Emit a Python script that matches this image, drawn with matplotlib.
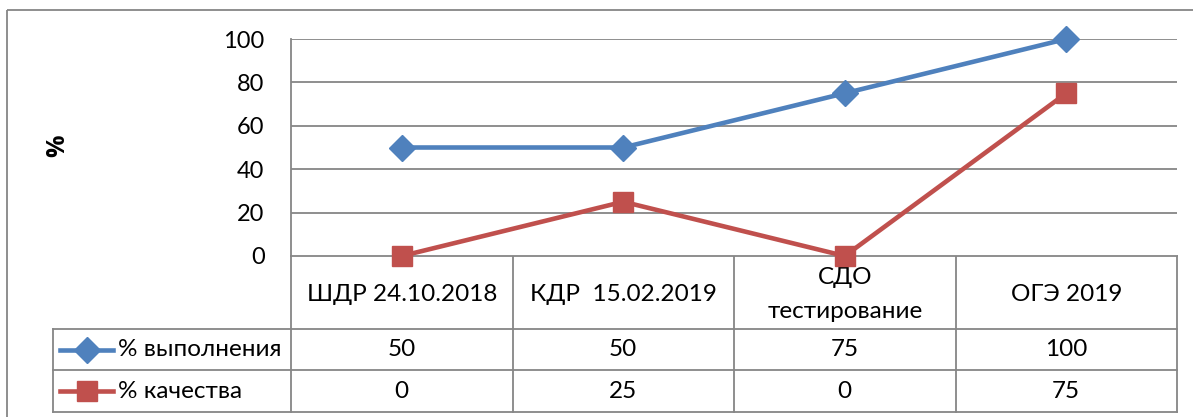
import matplotlib.pyplot as plt
from matplotlib.patches import Rectangle

plt.rcParams['font.family'] = ['Lato', 'DejaVu Sans']

categories = ['ШДР 24.10.2018', 'КДР  15.02.2019', 'СДО\nтестирование', 'ОГЭ 2019']
vypolnenie = [50, 50, 75, 100]
kachestvo = [0, 25, 0, 75]
series_names = ['% выполнения', '% качества']
yticks = [0, 20, 40, 60, 80, 100]

blue = '#4F81BD'
red = '#C0504D'
grid_col = '#868686'
W, H = 1193, 417
fs = 17.5

fig = plt.figure(figsize=(W / 100, H / 100), dpi=100)

# overlay for border and data table (pixel coords)
ov = fig.add_axes([0, 0, 1, 1])
ov.set_xlim(0, W)
ov.set_ylim(H, 0)
ov.axis('off')
ov.add_patch(Rectangle((7, 10), W + 10, H + 10, fill=False, ec=grid_col, lw=1.3))

left, right = 291, 1177
top, zero = 39, 256
row_y = [256, 329, 370, 412]
col_x = [291 + i * (right - left) / 4 for i in range(5)]
leg_left = 53

ax = fig.add_axes([left / W, (H - zero) / H, (right - left) / W, (zero - top) / H])
ax.set_xlim(-0.5, 3.5)
ax.set_ylim(0, 100)
ax.set_yticks(yticks)
ax.set_xticks([])
ax.yaxis.grid(True, color=grid_col, lw=1.3)
ax.set_axisbelow(True)
for s in ['top', 'right', 'bottom']:
    ax.spines[s].set_visible(False)
ax.spines['left'].set_color(grid_col)
ax.spines['left'].set_linewidth(1.3)
ax.tick_params(axis='y', length=0, labelsize=17, pad=19)

ov.text(58, 146, '%', rotation=90, ha='center', va='center', fontsize=18,
        fontweight='bold', family=['Open Sans', 'DejaVu Sans'])

x = range(len(categories))
ax.plot(x, vypolnenie, color=blue, lw=3.3, marker='D', ms=13, clip_on=False, zorder=3)
ax.plot(x, kachestvo, color=red, lw=3.3, marker='s', ms=14, clip_on=False, zorder=3)

# table lines
lc = dict(color=grid_col, lw=1.3)
ov.plot([left, right], [row_y[0], row_y[0]], **lc)
for y in row_y[1:]:
    ov.plot([leg_left, right], [y, y], **lc)
for cx in col_x:
    ov.plot([cx, cx], [row_y[0], row_y[3]], **lc)
ov.plot([leg_left, leg_left], [row_y[1], row_y[3]], **lc)

for i, cat in enumerate(categories):
    cx = (col_x[i] + col_x[i + 1]) / 2
    ov.text(cx, (row_y[0] + row_y[1]) / 2 + 2, cat, ha='center', va='center',
            fontsize=fs, linespacing=1.75)
    ov.text(cx, (row_y[1] + row_y[2]) / 2, str(vypolnenie[i]), ha='center',
            va='center', fontsize=fs)
    ov.text(cx, (row_y[2] + row_y[3]) / 2, str(kachestvo[i]), ha='center',
            va='center', fontsize=fs)

for j, (name, col, mk, ms) in enumerate(zip(series_names, [blue, red], ['D', 's'], [13, 14])):
    cy = (row_y[j + 1] + row_y[j + 2]) / 2
    ov.plot([60, 113], [cy, cy], color=col, lw=3.3)
    ov.plot([87], [cy], color=col, marker=mk, ms=ms)
    ov.text(118, cy, name, ha='left', va='center', fontsize=fs)

fig.savefig('out.png', dpi=100)
